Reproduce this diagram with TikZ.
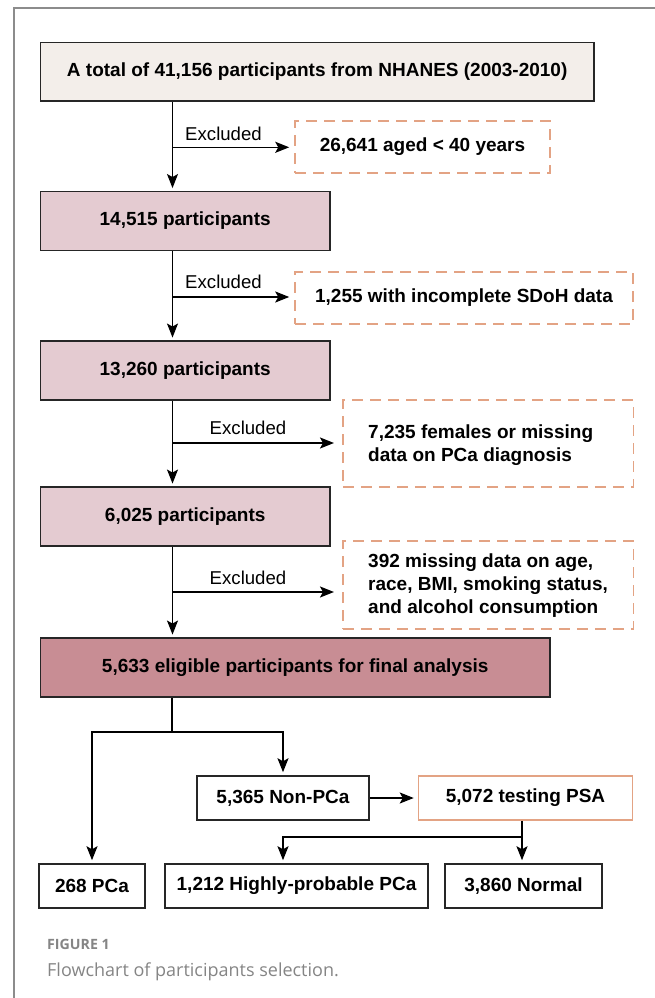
\documentclass[tikz,border=0pt]{standalone}
\usepackage{fontspec}
\setmainfont{Liberation Sans}
\newfontfamily\capfont{Open Sans}
\usetikzlibrary{arrows.meta,calc}
\definecolor{topfill}{HTML}{F3EEEA}
\definecolor{midfill}{HTML}{E4CBD1}
\definecolor{endfill}{HTML}{C88D94}
\definecolor{dashcol}{HTML}{E3A384}
\definecolor{framecol}{HTML}{8C8C8C}
\definecolor{capcol}{HTML}{858585}
\begin{document}
\begin{tikzpicture}[x=1pt,y=-1pt,
  box/.style={draw=black!85, line width=1.5pt, inner sep=0pt, text=black,
    font=\fontsize{19}{23}\selectfont\bfseries},
  dbox/.style={draw=dashcol, line width=1.5pt, dash pattern=on 11pt off 7pt, inner sep=0pt,
    text=black, font=\fontsize{19}{23}\selectfont\bfseries},
  txt/.style={inner sep=0pt, text=black, font=\fontsize{19}{23}\selectfont\bfseries, align=left},
  exl/.style={inner sep=0pt, text=black, font=\fontsize{18.6}{22}\selectfont},
  ln/.style={line width=1.5pt, draw=black},
  arr/.style={ln, -{Stealth[length=14pt,width=11pt,inset=3pt]}},
  capt/.style={inner sep=0pt, anchor=base west, text=capcol}
]
\useasboundingbox (0,0) rectangle (655,998);
% frame
\draw[framecol, line width=2pt] (14,998) -- (14,8) -- (655,8);

% main boxes
\node[box, fill=topfill, minimum width=553.5pt, minimum height=58.5pt] (b1) at (317.2,71.8)
  {A total of 41,156 participants from NHANES (2003-2010)};
\node[box, fill=midfill, minimum width=289.5pt, minimum height=59pt] (b2) at (185.2,221)
  {14,515 participants};
\node[box, fill=midfill, minimum width=289.5pt, minimum height=59pt] (b3) at (185.2,370.5)
  {13,260 participants};
\node[box, fill=midfill, minimum width=289.5pt, minimum height=59pt] (b4) at (185.2,516.5)
  {6,025 participants};
\node[box, fill=endfill, minimum width=509.5pt, minimum height=59pt] (b5) at (295.2,667.5)
  {5,633 eligible participants for final analysis};

% excluded boxes
\node[dbox, minimum width=255pt, minimum height=52pt] (e1) at (422.5,147)
  {26,641 aged < 40 years};
\node[dbox, minimum width=338pt, minimum height=52pt] (e2) at (464,298)
  {1,255 with incomplete SDoH data};
\node[dbox, minimum width=290.5pt, minimum height=87pt] (e3) at (488,443.5) {};
\node[txt, anchor=west] (t3) at (368,445) {7,235 females or missing\\data on PCa diagnosis};
\node[dbox, minimum width=290.5pt, minimum height=88pt] (e4) at (488,585) {};
\node[txt, anchor=west] (t4) at (368,586) {392 missing data on age,\\race, BMI, smoking status,\\and alcohol consumption};

% spine
\coordinate (sp) at (172.5,0);
\draw[arr, shorten >=2.7pt] (b1.south -| sp) -- (b2.north -| sp);
\draw[arr, shorten >=2.7pt] (b2.south -| sp) -- (b3.north -| sp);
\draw[arr, shorten >=2.7pt] (b3.south -| sp) -- (b4.north -| sp);
\draw[arr, shorten >=2.7pt] (b4.south -| sp) -- (b5.north -| sp);

% exclusion arrows
\coordinate (x1) at (172.5,147.3);
\coordinate (x2) at (172.5,297);
\coordinate (x3) at (172.5,443);
\coordinate (x4) at (172.5,592);
\draw[arr, shorten >=5pt] (x1) -- (x1 -| e1.west);
\draw[arr, shorten >=5pt] (x2) -- (x2 -| e2.west);
\draw[arr, shorten >=8pt] (x3) -- (x3 -| e3.west);
\draw[arr, shorten >=8pt] (x4) -- (x4 -| e4.west);
\node[exl] (l1) at (223.5,134) {Excluded};
\node[exl] (l2) at (223.5,282) {Excluded};
\node[exl] (l3) at (248,428) {Excluded};
\node[exl] (l4) at (248,577.5) {Excluded};

% lower part
\node[box, minimum width=172pt, minimum height=44pt] (n1) at (283,798) {5,365 Non-PCa};
\node[box, draw=dashcol, minimum width=214pt, minimum height=44pt] (n2) at (525.5,798) {5,072 testing PSA};
\node[box, minimum width=106pt, minimum height=44pt] (c1) at (92,886) {268 PCa};
\node[box, minimum width=263pt, minimum height=44pt] (c2) at (296.5,886) {1,212 Highly-probable PCa};
\node[box, minimum width=157pt, minimum height=44pt] (c3) at (523.5,886) {3,860 Normal};

\coordinate (sa) at (172,732);
\draw[ln] (b5.south -| sa) -- (sa);
\draw[arr, shorten >=3pt] (sa) -| (c1.north);
\draw[arr, shorten >=3pt] (sa) -| (n1.north);
\draw[arr, shorten >=4pt] (n1.east) -- (n2.west);
\coordinate (sb) at (522,837);
\draw[ln] (n2.south -| sb) -- (sb);
\draw[arr, shorten >=3pt] (sb) -- (c3.north -| sb);
\draw[arr, shorten >=3pt] (sb) -| (n1.south |- c2.north);

% caption
\node[capt, font=\capfont\fontsize{14.2}{16}\selectfont\bfseries] (f1) at (47,949) {FIGURE 1};
\node[capt, font=\capfont\fontsize{18}{20}\selectfont] (f2) at (47,976) {Flowchart of participants selection.};
\end{tikzpicture}
\end{document}
